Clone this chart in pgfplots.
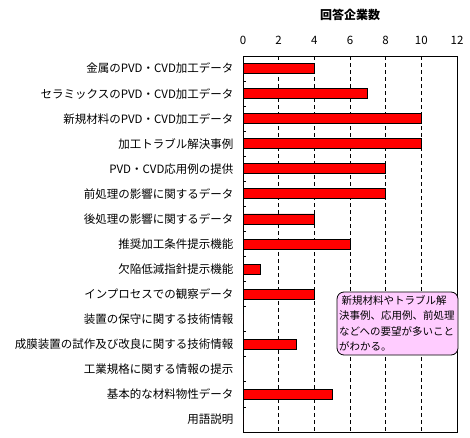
\documentclass[border=0pt]{standalone}
\usepackage{fontspec}
\setmainfont{Noto Sans CJK JP}
\usepackage{pgfplots}
\pgfplotsset{compat=1.18}
\definecolor{boxpink}{RGB}{255,204,255}
\begin{document}
\begin{tikzpicture}
\useasboundingbox (0pt,0pt) rectangle (470pt,437pt);
\begin{axis}[
  at={(243pt,5pt)}, anchor=south west, scale only axis,
  width=214pt, height=376pt,
  xbar, bar width=10pt,
  xmin=0, xmax=12, xtick={0,2,...,12},
  ymin=-0.5, ymax=14.5, y dir=reverse,
  ytick={0,...,14},
  yticklabels={金属のPVD・CVD加工データ,セラミックスのPVD・CVD加工データ,新規材料のPVD・CVD加工データ,加工トラブル解決事例,PVD・CVD応用例の提供,前処理の影響に関するデータ,後処理の影響に関するデータ,推奨加工条件提示機能,欠陥低減指針提示機能,インプロセスでの観察データ,装置の保守に関する技術情報,成膜装置の試作及び改良に関する技術情報,工業規格に関する情報の提示,基本的な材料物性データ,用語説明},
  minor ytick={0.5,1.5,...,13.5},
  ytick pos=left, xtick pos=upper, xticklabel pos=upper,
  major tick length=0pt, minor tick length=3pt, tick align=inside,
  tick style={black, line width=0.8pt},
  xmajorgrids, grid style={black, dashed, line width=0.8pt, dash pattern=on 4pt off 3pt},
  axis line style={black, line width=0.8pt},
  /pgf/number format/assume math mode=true,
  ticklabel style={font=\fontsize{11.5}{13}\selectfont},
  yticklabel style={xshift=-6pt},
  xticklabel style={yshift=8pt},
]
\addplot[fill=red, draw=black, line width=0.8pt] coordinates {
(4,0) (7,1) (10,2) (10,3) (8,4) (8,5) (4,6) (6,7) (1,8) (4,9) (0,10) (3,11) (0,12) (5,13) (0,14)};
\end{axis}
\node[font=\bfseries\fontsize{12}{14}\selectfont] at (350pt,422pt) {回答企業数};
\draw[black, line width=0.8pt, fill=boxpink, rounded corners=7pt] (337pt,82pt) rectangle (458pt,145pt);
\node[anchor=north west, align=left, inner sep=0pt, font=\fontsize{10.5}{15.5}\selectfont] at (339pt,142pt)
{\ 新規材料やトラブル解\\決事例、応用例、前処理\\などへの要望が多いこと\\がわかる。};
\end{tikzpicture}
\end{document}
